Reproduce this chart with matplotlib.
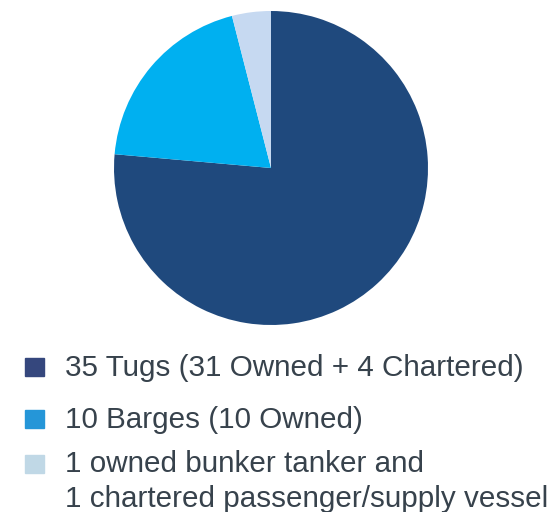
import matplotlib.pyplot as plt
from matplotlib.patches import Rectangle

plt.rcParams['font.family'] = ['Liberation Sans', 'DejaVu Sans']

labels = ['35 Tugs (31 Owned + 4 Chartered)',
          '10 Barges (10 Owned)',
          '1 owned bunker tanker and\n1 chartered passenger/supply vessel']
shares = [76.4, 19.6, 4.0]  # slice shares (%)
pie_colors = ['#1f497d', '#00b0f0', '#c6d9f1']
key_colors = ['#35477d', '#2596d8', '#c0d8e6']

W, H = 549, 512
fig = plt.figure(figsize=(W / 100, H / 100), dpi=100)

# pie: centre (271,168) px, radius 157 px
cx, cy, r = 271, 168, 157
ax = fig.add_axes([(cx - r) / W, (H - cy - r) / H, 2 * r / W, 2 * r / H])
ax.pie(shares, colors=pie_colors, startangle=90, counterclock=False,
       radius=1, wedgeprops=dict(linewidth=0))
ax.set_xlim(-1, 1)
ax.set_ylim(-1, 1)
ax.set_aspect('equal')
ax.axis('off')

# legend drawn by hand
text_color = '#37424c'
rows = [(367, [376]), (419, [428]), (464, [472, 507])]
for (ky, bases), lab, col in zip(rows, labels, key_colors):
    fig.patches.append(Rectangle((25 / W, (H - ky - 9) / H), 19 / W, 18 / H,
                                 transform=fig.transFigure, color=col))
    for base, line in zip(bases, lab.split('\n')):
        fig.text(65 / W, (H - base) / H, line, fontsize=21.3, color=text_color,
                 va='baseline', ha='left')

fig.savefig('out.png', dpi=100)
